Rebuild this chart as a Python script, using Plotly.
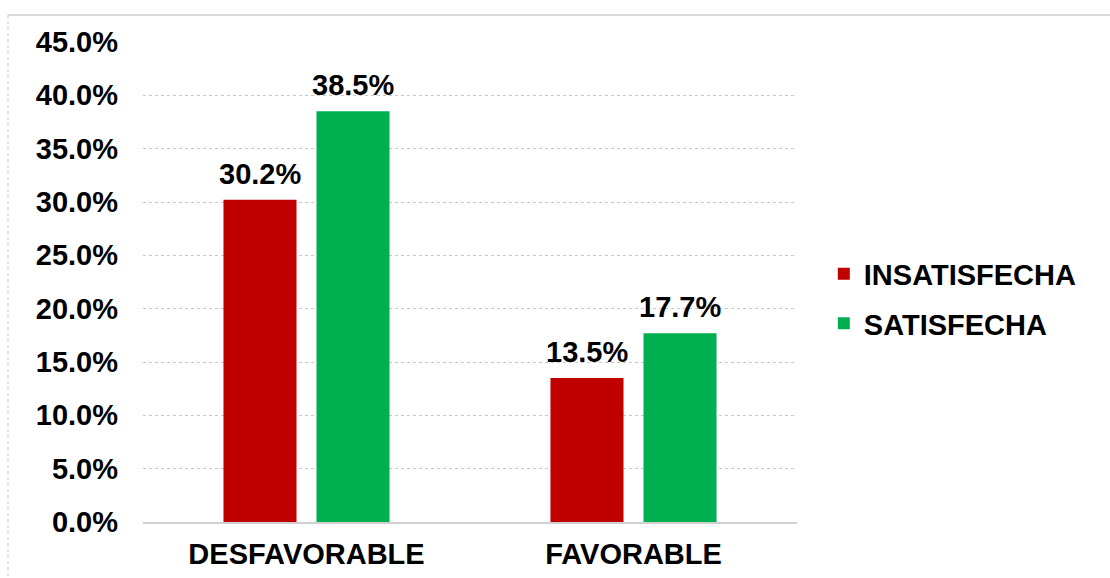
import plotly.graph_objects as go

categories = ["DESFAVORABLE", "FAVORABLE"]
insatisfecha = [30.2, 13.5]
satisfecha = [38.5, 17.7]
series_names = ["INSATISFECHA", "SATISFECHA"]
colors = ["#C00000", "#00B050"]

FONT = "Liberation Sans, Arial, sans-serif"
FS = 29

fig = go.Figure()
series = [(series_names[0], insatisfecha, colors[0], "g1", -46.5),
          (series_names[1], satisfecha, colors[1], "g2", 46.5)]
for name, vals, col, grp, off in series:
    fig.add_trace(go.Bar(
        x=categories, y=vals, name=name, marker_color=col,
        marker_line_width=0, legendgroup=grp,
    ))
    for c, v in zip(categories, vals):
        fig.add_annotation(
            x=c, y=v, xref="x", yref="y", text=f"{v:.1f}%",
            showarrow=False, yanchor="bottom", xanchor="center",
            xshift=off, yshift=8,
            font=dict(family=FONT, size=FS, color="#000000", weight="bold"),
        )

fig.update_layout(
    width=1110, height=578,
    margin=dict(l=143, r=313, t=42, b=56),
    paper_bgcolor="white", plot_bgcolor="white",
    barmode="group", bargap=0.431, bargroupgap=0.215,
    showlegend=True,
    legend=dict(x=1.041, xanchor="left", y=0.465, yanchor="middle",
                traceorder="grouped", tracegroupgap=9,
                font=dict(family=FONT, size=FS, color="#000000", weight="bold"),
                bgcolor="rgba(0,0,0,0)"),
    font=dict(family=FONT, color="#000000"),
)
fig.update_xaxes(
    showline=True, linecolor="#d0d0d0", linewidth=1.5, automargin=False,
    showgrid=False, ticks="", ticklabelstandoff=5,
    tickfont=dict(family=FONT, size=FS, color="#000000", weight="bold"),
)
fig.update_yaxes(
    range=[0, 45], dtick=5, tickformat=".1f", ticksuffix="%", automargin=False,
    showgrid=True, gridcolor="#c8c8c8", griddash="dot", gridwidth=1,
    zeroline=False, showline=False, ticks="", ticklabelstandoff=24,
    tickfont=dict(family=FONT, size=FS, color="#000000", weight="bold"),
)

# outer frame (top and left edges visible in reference)
def px_x(p):
    return (p - 143) / 654
def px_y(p):
    return (522 - p) / 480

fig.add_shape(type="line", xref="paper", yref="paper",
              x0=px_x(8), x1=px_x(1112), y0=px_y(15), y1=px_y(15),
              line=dict(color="#d9d9d9", width=2))
fig.add_shape(type="line", xref="paper", yref="paper",
              x0=px_x(8), x1=px_x(8), y0=px_y(15), y1=px_y(580),
              line=dict(color="#d9d9d9", width=1.5, dash="dot"))

fig.write_html("out.html")
